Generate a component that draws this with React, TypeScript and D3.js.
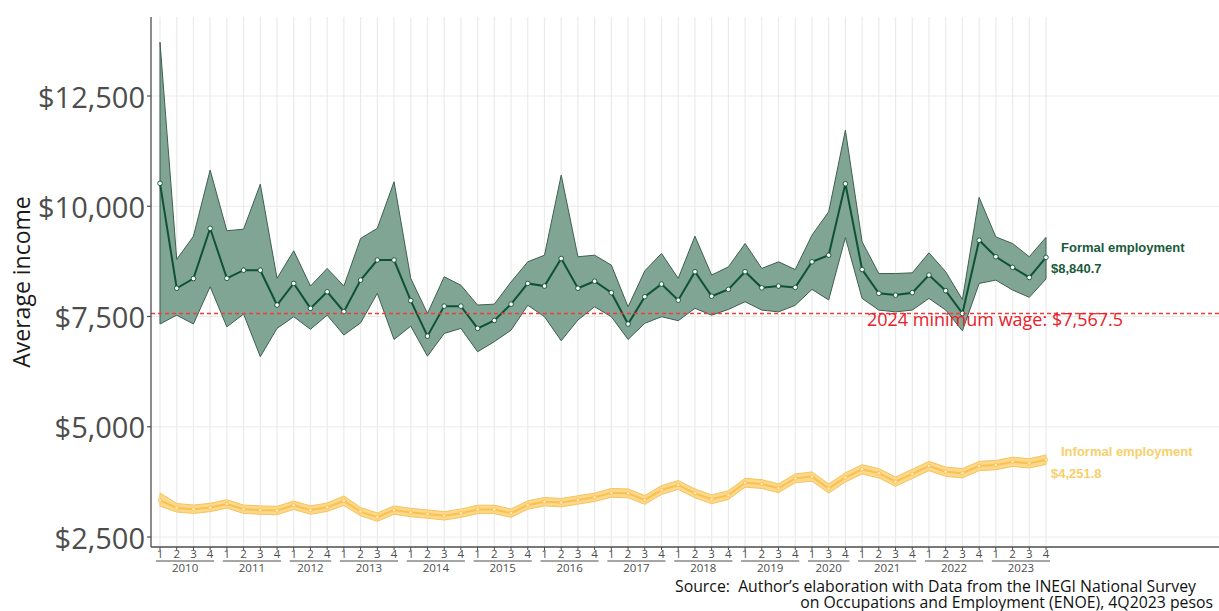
import React from "react";
import * as d3 from "d3";

const periodYear = [
  2010, 2010, 2010, 2010, 2011, 2011, 2011, 2011, 2012, 2012, 2012,
  2013, 2013, 2013, 2013, 2014, 2014, 2014, 2014, 2015, 2015, 2015, 2015,
  2016, 2016, 2016, 2016, 2017, 2017, 2017, 2017, 2018, 2018, 2018, 2018,
  2019, 2019, 2019, 2019, 2020, 2020, 2020, 2021, 2021, 2021, 2021,
  2022, 2022, 2022, 2022, 2023, 2023, 2023, 2023,
];
const periodQuarter = [
  1, 2, 3, 4, 1, 2, 3, 4, 1, 2, 4,
  1, 2, 3, 4, 1, 2, 3, 4, 1, 2, 3, 4,
  1, 2, 3, 4, 1, 2, 3, 4, 1, 2, 3, 4,
  1, 2, 3, 4, 1, 3, 4, 1, 2, 3, 4,
  1, 2, 3, 4, 1, 2, 3, 4,
];

const formalMean = [
  10520, 8140, 8360, 9500, 8365, 8550, 8550, 7760, 8250, 7685, 8060,
  7610, 8325, 8780, 8780, 7860, 7055, 7735, 7735, 7230, 7410, 7780, 8250,
  8190, 8815, 8140, 8300, 8040, 7330, 7950, 8235, 7870, 8515, 7960, 8115,
  8515, 8150, 8190, 8160, 8740, 8890, 10510, 8565, 8025, 7985, 8040,
  8440, 8085, 7570, 9230, 8855, 8615, 8385, 8840.7,
];
const formalUpper = [
  13720, 8795, 9320, 10820, 9445, 9480, 10500, 8365, 8990, 8190, 8590,
  8190, 9270, 9500, 10555, 8365, 7570, 8400, 8210, 7760, 7780, 8285, 8740,
  8890, 10705, 8855, 8890, 8665, 7720, 8535, 8930, 8365, 9320, 8440, 8625,
  9155, 8590, 8740, 8565, 9345, 9875, 11725, 9195, 8475, 8475, 8490,
  8945, 8515, 7885, 10200, 9305, 9155, 8855, 9295,
];
const formalLower = [
  7330, 7530, 7330, 8175, 7265, 7555, 6590, 7230, 7495, 7210, 7530,
  7080, 7355, 8025, 6980, 7280, 6600, 7115, 7230, 6700, 6930, 7190, 7755,
  7495, 6950, 7420, 7720, 7495, 6980, 7345, 7495, 7405, 7685, 7530, 7660,
  7835, 7645, 7605, 7755, 8115, 7875, 9290, 7910, 7645, 7605, 7645,
  7910, 7645, 7175, 8250, 8325, 8100, 7935, 8350,
];

const informalMean = [
  3330, 3160, 3130, 3170, 3250, 3130, 3110, 3100, 3220, 3110, 3175,
  3320, 3075, 2950, 3110, 3055, 3020, 2980, 3040, 3125, 3125, 3040, 3225,
  3300, 3280, 3340, 3400, 3500, 3490, 3340, 3565, 3680, 3490, 3355, 3450,
  3730, 3700, 3605, 3830, 3870, 3600, 3850, 4035, 3945, 3755, 3930,
  4110, 3980, 3945, 4110, 4130, 4205, 4170, 4251.8,
];
const informalUpper = [
  3500, 3260, 3225, 3265, 3345, 3225, 3205, 3195, 3315, 3205, 3270,
  3430, 3170, 3045, 3205, 3150, 3115, 3075, 3135, 3220, 3220, 3135, 3320,
  3395, 3375, 3435, 3495, 3600, 3590, 3440, 3665, 3780, 3590, 3455, 3550,
  3830, 3800, 3705, 3930, 3975, 3705, 3955, 4140, 4050, 3860, 4035,
  4215, 4085, 4050, 4215, 4235, 4310, 4275, 4360,
];
const informalLower = [
  3200, 3065, 3035, 3075, 3155, 3035, 3015, 3005, 3125, 3015, 3080,
  3215, 2980, 2855, 3015, 2960, 2925, 2885, 2945, 3030, 3030, 2945, 3130,
  3205, 3185, 3245, 3305, 3400, 3390, 3240, 3465, 3580, 3390, 3255, 3350,
  3630, 3600, 3505, 3730, 3765, 3495, 3745, 3930, 3840, 3650, 3825,
  4005, 3875, 3840, 4005, 4025, 4100, 4065, 4145,
];

const yTicks = [2500, 5000, 7500, 10000, 12500];
const minimumWage = 7567.5;

const W = 1219;
const H = 611;
const panelLeft = 151;
const panelTop = 17;
const panelBottom = 547;

export default function App() {
  const keys = periodYear.map((y, i) => `${y}-${periodQuarter[i]}`);
  const x = d3.scalePoint<string>().domain(keys).range([160, 1046]);
  const y = d3.scaleLinear().domain([2500, 12500]).range([537, 96]);

  const fmt = (v: number) => "$" + d3.format(",")(v);
  const fmt1 = (v: number) => "$" + d3.format(",.1f")(v);

  const idx = d3.range(keys.length);
  const area = (lo: number[], hi: number[]) =>
    d3
      .area<number>()
      .x((i) => x(keys[i])!)
      .y0((i) => y(lo[i]))
      .y1((i) => y(hi[i]))(idx)!;
  const line = (m: number[]) =>
    d3
      .line<number>()
      .x((i) => x(keys[i])!)
      .y((i) => y(m[i]))(idx)!;

  const years = Array.from(new Set(periodYear));
  const last = keys.length - 1;

  const font = "'Open Sans', 'DejaVu Sans', sans-serif";
  const boldFont = "'Liberation Sans', Arial, sans-serif";

  return (
    <svg
      width={W}
      height={H}
      style={{ position: "absolute", left: 0, top: 0, background: "#fff" }}
    >
      {keys.map((k) => (
        <line
          key={"vg" + k}
          x1={x(k)}
          x2={x(k)}
          y1={panelTop}
          y2={panelBottom}
          stroke="#ebebeb"
          strokeWidth={1.2}
        />
      ))}
      {yTicks.map((t) => (
        <line
          key={"hg" + t}
          x1={panelLeft}
          x2={W}
          y1={y(t)}
          y2={y(t)}
          stroke="#ebebeb"
          strokeWidth={1.2}
        />
      ))}

      <path
        d={area(formalLower, formalUpper)}
        fill="#80a595"
        stroke="#3f5f51"
        strokeWidth={1}
      />
      <path d={line(formalMean)} fill="none" stroke="#0e5234" strokeWidth={2} />
      {idx.map((i) => (
        <circle
          key={"fp" + i}
          cx={x(keys[i])}
          cy={y(formalMean[i])}
          r={2.3}
          fill="#fff"
          stroke="#0e5234"
          strokeWidth={0.9}
        />
      ))}

      <path
        d={area(informalLower, informalUpper)}
        fill="#fcd88c"
        stroke="#f6c35c"
        strokeWidth={1}
      />
      <path d={line(informalMean)} fill="none" stroke="#f8c150" strokeWidth={2} />
      {idx.map((i) => (
        <circle
          key={"ip" + i}
          cx={x(keys[i])}
          cy={y(informalMean[i])}
          r={1.8}
          fill="#fde7b5"
          stroke="#f8c150"
          strokeWidth={0.8}
        />
      ))}

      <line
        x1={panelLeft}
        x2={W}
        y1={y(minimumWage)}
        y2={y(minimumWage)}
        stroke="#f03c3c"
        strokeWidth={1.5}
        strokeDasharray="4 3"
      />
      <text
        x={995}
        y={y(minimumWage) + 5}
        textAnchor="middle"
        dominantBaseline="central"
        fontFamily={font}
        fontSize={18}
        fill="#e8202a"
      >
        2024 minimum wage: {fmt1(minimumWage)}
      </text>

      <line
        x1={panelLeft}
        x2={panelLeft}
        y1={panelTop}
        y2={panelBottom}
        stroke="#4d4d4d"
        strokeWidth={1.3}
      />
      <line
        x1={panelLeft}
        x2={W}
        y1={panelBottom}
        y2={panelBottom}
        stroke="#4d4d4d"
        strokeWidth={1.3}
      />
      {yTicks.map((t) => (
        <g key={"yt" + t}>
          <line
            x1={panelLeft - 4}
            x2={panelLeft}
            y1={y(t)}
            y2={y(t)}
            stroke="#4d4d4d"
            strokeWidth={1.2}
          />
          <text
            x={panelLeft - 6}
            y={y(t)}
            textAnchor="end"
            dominantBaseline="central"
            fontFamily={font}
            fontSize={29}
            fill="#4d4d4d"
          >
            {fmt(t)}
          </text>
        </g>
      ))}
      <text
        transform={`translate(30, 282) rotate(-90)`}
        textAnchor="middle"
        fontFamily={font}
        fontSize={23}
        fill="#1a1a1a"
      >
        Average income
      </text>

      {keys.map((k, i) => (
        <g key={"xt" + k}>
          <line
            x1={x(k)}
            x2={x(k)}
            y1={panelBottom}
            y2={panelBottom + 3}
            stroke="#4d4d4d"
            strokeWidth={1}
          />
          <text
            x={x(k)}
            y={558}
            textAnchor="middle"
            fontFamily={font}
            fontSize={11.5}
            fill="#4d4d4d"
          >
            {periodQuarter[i]}
          </text>
        </g>
      ))}
      {years.map((yr) => {
        const ks = keys.filter((_, i) => periodYear[i] === yr);
        const x0 = x(ks[0])! - 4;
        const x1 = x(ks[ks.length - 1])! + 4;
        return (
          <g key={"yr" + yr}>
            <line x1={x0} x2={x1} y1={561} y2={561} stroke="#4d4d4d" strokeWidth={1} />
            <text
              x={(x0 + x1) / 2}
              y={572}
              textAnchor="middle"
              fontFamily={font}
              fontSize={11.5}
              fill="#4d4d4d"
            >
              {yr}
            </text>
          </g>
        );
      })}

      <text x={1061} y={252} fontFamily={boldFont} fontWeight="bold" fontSize={13} fill="#1b5a3c">
        Formal employment
      </text>
      <text x={1051} y={273} fontFamily={boldFont} fontWeight="bold" fontSize={13} fill="#1b5a3c">
        {fmt1(formalMean[last])}
      </text>
      <text x={1061} y={456} fontFamily={boldFont} fontWeight="bold" fontSize={13} fill="#f8cf6a">
        Informal employment
      </text>
      <text x={1051} y={478} fontFamily={boldFont} fontWeight="bold" fontSize={13} fill="#f8cf6a">
        {fmt1(informalMean[last])}
      </text>

      <text x={675} y={592} fontFamily={font} fontSize={15.8} fill="#111">
        Source:{"\u00a0\u00a0"}Author’s elaboration with Data from the INEGI National Survey
      </text>
      <text x={1213} y={607.5} textAnchor="end" fontFamily={font} fontSize={15.8} fill="#111">
        on Occupations and Employment (ENOE), 4Q2023 pesos
      </text>
    </svg>
  );
}
